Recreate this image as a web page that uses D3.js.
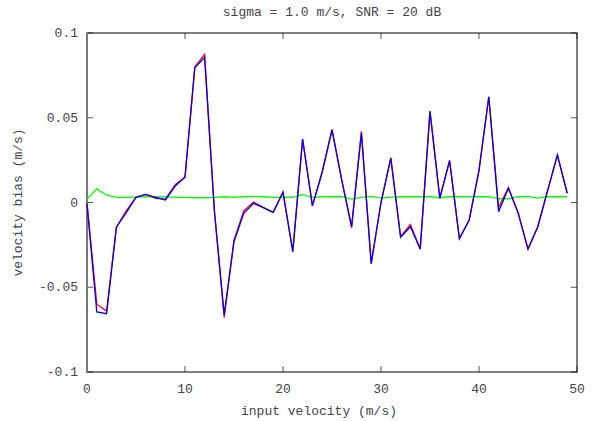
<!DOCTYPE html>
<html>
<head>
<meta charset="utf-8">
<script src="https://cdn.jsdelivr.net/npm/d3@7"></script>
<style>
  body { margin: 0; background: #fff; }
  text { font-family: "Liberation Mono", "DejaVu Sans Mono", monospace; font-size: 13px; fill: #444; }
</style>
</head>
<body>
<div id="chart"></div>
<script>
// input velocity 0..49 m/s
var velocity = d3.range(0, 50);

var biasRed = [0.000, -0.060, -0.064, -0.0146, -0.005, 0.003, 0.0048, 0.0025, 0.002, 0.0105,
  0.015, 0.080, 0.0874, -0.005, -0.068, -0.022, -0.005, 0.0003, -0.003, -0.0058,
  0.0062, -0.029, 0.0375, -0.002, 0.018, 0.0432, 0.013, -0.015, 0.042, -0.0362,
  0.000, 0.0265, -0.0200, -0.013, -0.0275, 0.0540, 0.0025, 0.0248, -0.0213, -0.0103,
  0.019, 0.0624, -0.003, 0.0088, -0.006, -0.0275, -0.0143, 0.007, 0.028, 0.0056];

var biasBlue = [-0.001, -0.0646, -0.0656, -0.0146, -0.006, 0.003, 0.0048, 0.003, 0.0015, 0.0097,
  0.0149, 0.0795, 0.0857, -0.005, -0.066, -0.023, -0.0064, -0.0005, -0.003, -0.0058,
  0.006, -0.029, 0.0373, -0.002, 0.018, 0.0428, 0.013, -0.0139, 0.0408, -0.0359,
  0.000, 0.026, -0.0205, -0.0143, -0.0275, 0.0536, 0.0025, 0.0247, -0.0213, -0.0103,
  0.019, 0.0624, -0.0054, 0.0084, -0.0064, -0.0275, -0.0143, 0.007, 0.028, 0.0054];

var biasGreen = [0.002, 0.008, 0.0044, 0.003, 0.003, 0.0032, 0.0034, 0.0034, 0.0033, 0.003,
  0.003, 0.0028, 0.0028, 0.003, 0.0034, 0.003, 0.0034, 0.0036, 0.0034, 0.003,
  0.0032, 0.003, 0.0046, 0.003, 0.0034, 0.0034, 0.0034, 0.002, 0.003, 0.0036,
  0.0026, 0.0032, 0.0034, 0.0034, 0.0034, 0.0034, 0.0028, 0.0034, 0.0034, 0.0034,
  0.0034, 0.0034, 0.0022, 0.0022, 0.0034, 0.0036, 0.0026, 0.0034, 0.0034, 0.0034];

var xTicks = [0, 10, 20, 30, 40, 50];
var yTicks = [0.1, 0.05, 0, -0.05, -0.1];

var title = 'sigma = 1.0 m/s, SNR = 20 dB';
var xTitle = 'input velocity (m/s)';
var yTitle = 'velocity bias (m/s)';

var width = 598, height = 421;
var margin = {left: 87, right: 21, top: 33, bottom: 49};

var svg = d3.select('#chart').append('svg')
    .attr('width', width)
    .attr('height', height);

var x = d3.scaleLinear().domain([0, 50]).range([margin.left, width - margin.right]);
var y = d3.scaleLinear().domain([-0.1, 0.1]).range([height - margin.bottom, margin.top]);

// ticks inside the frame, mirrored on top / right
var tickLen = 6;
var g = svg.append('g');
xTicks.forEach(function(t) {
    g.append('line').attr('x1', x(t)).attr('x2', x(t))
        .attr('y1', y(-0.1)).attr('y2', y(-0.1) - tickLen)
        .attr('stroke', '#555');
    g.append('line').attr('x1', x(t)).attr('x2', x(t))
        .attr('y1', y(0.1)).attr('y2', y(0.1) + tickLen)
        .attr('stroke', '#555');
    g.append('text').attr('x', x(t)).attr('y', y(-0.1) + 21)
        .attr('text-anchor', 'middle').text(d3.format('d')(t));
});
yTicks.forEach(function(t) {
    g.append('line').attr('x1', x(0)).attr('x2', x(0) + tickLen)
        .attr('y1', y(t)).attr('y2', y(t))
        .attr('stroke', '#555');
    g.append('line').attr('x1', x(50)).attr('x2', x(50) - tickLen)
        .attr('y1', y(t)).attr('y2', y(t))
        .attr('stroke', '#555');
    g.append('text').attr('x', x(0) - 9).attr('y', y(t) + 4)
        .attr('text-anchor', 'end').text(t === 0 ? '0' : String(t));
});

// frame
svg.append('rect')
    .attr('x', x(0)).attr('y', y(0.1))
    .attr('width', x(50) - x(0)).attr('height', y(-0.1) - y(0.1))
    .attr('fill', 'none').attr('stroke', '#000').attr('stroke-width', 1);
svg.append('line')
    .attr('x1', x(0)).attr('x2', x(0)).attr('y1', y(0.1)).attr('y2', y(-0.1))
    .attr('stroke', '#777').attr('stroke-width', 2);

var series = [
    {values: biasGreen, color: '#00ff00'},
    {values: biasRed, color: '#ff0000'},
    {values: biasBlue, color: '#0000ff'}
];

var line = d3.line()
    .x(function(d, i) { return x(velocity[i]); })
    .y(function(d) { return y(d); });

series.forEach(function(s) {
    svg.append('path')
        .datum(s.values)
        .attr('d', line)
        .attr('fill', 'none')
        .attr('stroke', s.color)
        .attr('stroke-width', 1.3)
        .attr('stroke-linejoin', 'miter');
});

svg.append('text').attr('x', 332).attr('y', 16)
    .attr('text-anchor', 'middle').text(title);
svg.append('text').attr('x', x(25) - 13).attr('y', 415)
    .attr('text-anchor', 'middle').text(xTitle);
svg.append('text')
    .attr('transform', 'translate(22,' + y(0) + ') rotate(-90)')
    .attr('text-anchor', 'middle').text(yTitle);
</script>
</body>
</html>
